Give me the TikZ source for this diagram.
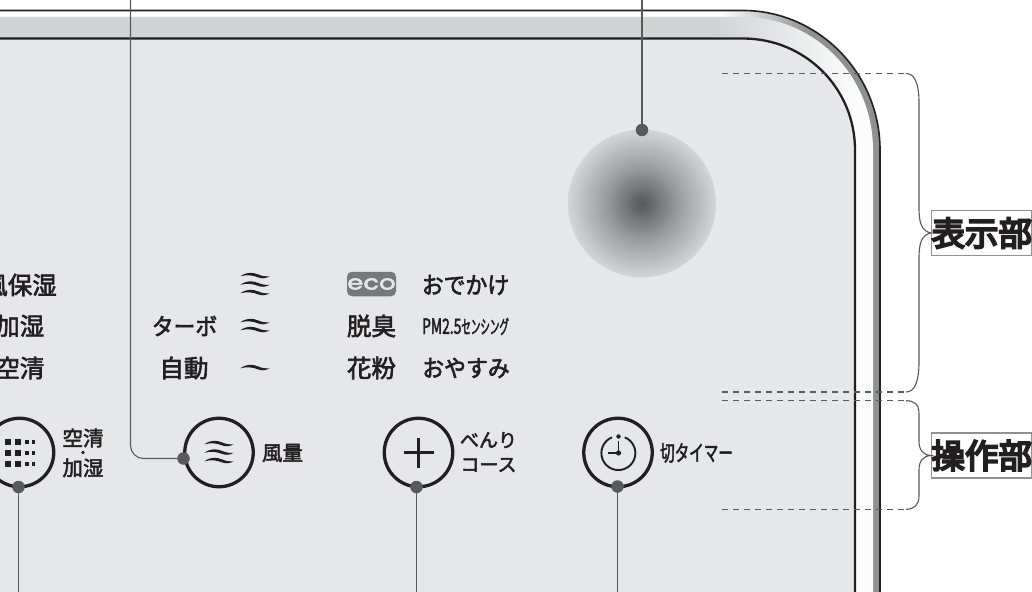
\documentclass[tikz,border=0pt]{standalone}
\usepackage{fontspec}
\newfontfamily\cjk[FakeBold=2.5]{Noto Sans CJK JP}
\newfontfamily\cjkk[FakeBold=2.5,FakeStretch=0.93]{Noto Sans CJK JP}
\newfontfamily\cjkn[FakeBold=2,FakeStretch=0.66]{Noto Sans CJK JP}
\newfontfamily\cjkv[FakeBold=2,FakeStretch=0.5]{Noto Sans CJK JP}
\newfontfamily\cjkt[FakeBold=6]{Noto Sans CJK JP}
\newfontfamily\ecof[FakeStretch=1.3,FakeBold=3]{Poppins}
\definecolor{ink}{HTML}{231F20}
\definecolor{lead}{HTML}{58595B}
\definecolor{panel}{HTML}{E6E7E8}
\definecolor{band}{HTML}{D1D3D4}
\definecolor{edge}{HTML}{8E9093}
\pgfdeclarehorizontalshading{rimshade}{100bp}{color(0bp)=(white);color(66bp)=(white);color(71bp)=(edge);color(100bp)=(edge)}
\pgfdeclarehorizontalshading{bandshade}{100bp}{color(0bp)=(band);color(66bp)=(band);color(74bp)=(white!92!band);color(100bp)=(white!92!band)}
\pgfdeclareradialshading{lens}{\pgfpoint{0bp}{0bp}}{color(0bp)=(lead);color(2bp)=(lead!94!panel);color(12.5bp)=(lead!52!panel);color(25bp)=(lead!13!panel);color(50bp)=(panel)}
\tikzset{
  leader/.style={draw=lead,line width=1.1pt},
  dashline/.style={draw=lead,line width=1.1pt,dash pattern=on 6pt off 5pt},
  dotn/.style={circle,fill=lead,minimum size=12.5pt,inner sep=0pt},
  btn/.style={circle,draw=ink,line width=3.3pt,minimum size=68.5pt,inner sep=0pt},
  big/.style={font=\cjk\fontsize{24.5}{25}\selectfont,text=ink,inner sep=0pt},
  kana/.style={font=\cjkk\fontsize{23.5}{25}\selectfont,text=ink,inner sep=0pt},
  small/.style={font=\cjk\fontsize{20.5}{22}\selectfont,text=ink,inner sep=0pt},
  narrow/.style={font=\cjkn\fontsize{21}{22}\selectfont,text=ink,inner sep=0pt},
  tag/.style={draw=edge,line width=1.1pt,fill=white,minimum width=99pt,minimum height=45pt,inner sep=0pt,
    font=\cjkt\fontsize{33.5}{34}\selectfont,text=ink},
  wave/.pic={\fill[ink] (-14.5,1.3) .. controls (-8,-3.6) and (-2,-2.6) .. (3,-0.6) .. controls (7,1) and (10,1.6) .. (14.5,1.4)
    .. controls (10,4) and (6,3.6) .. (2,2) .. controls (-2,0.5) and (-8,-0.6) .. (-14.5,1.3) -- cycle;}
}
\begin{document}
\begin{tikzpicture}[x=1pt,y=-1pt]
\useasboundingbox (0,0) rectangle (1032,591);
\clip (0,0) rectangle (1032,591);
\fill[white] (0,0) rectangle (1032,591);
% bezel
\shade[shading=rimshade] (-5,10.5) -- (743,10.5) .. controls (818,10.5) and (880,73) .. (880,150) -- (880,600) -- (-5,600) -- cycle;
\shade[shading=bandshade] (-5,17) -- (743,17) .. controls (815,17) and (873,76) .. (873,150) -- (873,600) -- (-5,600) -- cycle;
\draw[ink,line width=1.6pt] (-5,10.5) -- (743,10.5) .. controls (818,10.5) and (880,73) .. (880,150) -- (880,600);
\draw[ink,fill=panel,line width=2.3pt] (-5,38.5) -- (743,38.5) .. controls (805,38.5) and (855,88) .. (855,150) -- (855,600) -- (-5,600) -- cycle;
% sensor lens
\node[circle,minimum size=148pt,inner sep=0pt,shading=lens] (lensn) at (642,203.5) {};
% buttons
\node[btn] (b1) at (19.5,452.5) {};
\node[btn] (b2) at (219,452.5) {};
\node[btn] (b3) at (418.5,452.5) {};
\node[btn] (b4) at (618,452.5) {};
% icons
\foreach \x/\s in {8/5.6,18/5.2,27.3/4.2,33.5/3.6}{
  \foreach \y in {442,453,464}{
    \fill[ink] (\x-\s/2,\y-\s/2) rectangle (\x+\s/2,\y+\s/2);
  }
}
\pic at (219,443) {wave};
\pic at (219,451.5) {wave};
\pic at (219,460) {wave};
\draw[ink,line width=2.8pt] (404,452.7) -- (434,452.7) (418.6,438) -- (418.6,467.6);
\draw[ink,line width=1.9pt] (612,437.3) arc[start angle=-112,end angle=-428,radius=17];
\fill[ink] (618.5,436.5) circle[radius=2.2];
\draw[ink,line width=1.9pt] (618.5,441) -- (618.5,453) -- (608,453);
\fill[ink] (618.5,453) circle[radius=2.6];
% panel texts
\node[big,anchor=east] (t1) at (57,285) {風保湿};
\node[big,anchor=east] (t2) at (44.5,326) {加湿};
\node[big,anchor=east] (t3) at (44.5,368) {空清};
\node[kana] (t4) at (184.5,326) {ターボ};
\node[big] (t5) at (184,368) {自動};
\pic at (255,275) {wave};
\pic at (255,283.5) {wave};
\pic at (255,292) {wave};
\pic at (255,321) {wave};
\pic at (255,329) {wave};
\pic at (255,367) {wave};
\node[fill=edge!55!lead,rounded corners=5pt,minimum width=49pt,minimum height=24.5pt,inner sep=0pt,text=panel,font=\ecof\fontsize{20}{20}\selectfont] (eco) at (371.5,284) {eco};
\node[kana] (t6) at (465.5,285) {おでかけ};
\node[big] (t7) at (371.5,326) {脱臭};
\node[narrow,font=\cjkn\fontsize{21}{22}\selectfont] (t8) at (465.5,326.5) {PM2.5{\cjkv\fontsize{19}{20}\selectfont センシング}};
\node[big] (t9) at (371.5,368) {花粉};
\node[kana] (t10) at (466,368) {おやすみ};
\node[small] (s1) at (83,438) {空清};
\fill[ink] (83,452.5) circle[radius=1.8];
\node[small] (s2) at (83,468) {加湿};
\node[small] (s3) at (282.5,453) {風量};
\node[small,font=\cjk\fontsize{19}{20}\selectfont] (s4) at (488.5,440) {べんり};
\node[small,font=\cjk\fontsize{19}{20}\selectfont] (s5) at (488.5,465) {コース};
\node[narrow,font=\cjkn\fontsize{22}{22}\selectfont] (s6) at (696.5,453) {切タイマー};
% leaders
\node[dotn] (d1) at (18.5,487) {};
\node[dotn] (d2) at (183.5,458.5) {};
\node[dotn] (d3) at (416.5,487) {};
\node[dotn] (d4) at (617.5,486.5) {};
\node[dotn] (d5) at (642,130) {};
\coordinate (e1) at (18.5,595);
\coordinate (e2) at (130.5,-3);
\coordinate (e3) at (416.5,595);
\coordinate (e4) at (617.5,595);
\coordinate (e5) at (642,-3);
\draw[leader] (d1.center) -- (e1);
\draw[leader,rounded corners=13pt] (d2.center) -| (e2);
\draw[leader] (d3.center) -- (e3);
\draw[leader] (d4.center) -- (e4);
\draw[leader] (d5.center) -- (e5);
% tags
\node[tag] (lab1) at (981.7,233) {表示部};
\node[tag] (lab2) at (981.7,455.5) {操作部};
% dashed guides and braces
\coordinate (g1) at (722,73.5); \coordinate (h1) at (906,73.5);
\coordinate (g2) at (722,392); \coordinate (h2) at (906,392);
\coordinate (g3) at (722,400.7); \coordinate (h3) at (906,400.7);
\coordinate (g4) at (722,509.3); \coordinate (h4) at (906,509.3);
\draw[dashline] (g1) -- (h1);
\draw[dashline] (g2) -- (h2);
\draw[dashline] (g3) -- (h3);
\draw[dashline] (g4) -- (h4);
\draw[leader] (h1) .. controls (914,73.5) and (919,82) .. (919,103) -- (919,208) .. controls (919,224) and (922,231) .. (lab1.west)
  .. controls (922,235) and (919,242) .. (919,258) -- (919,362) .. controls (919,383) and (914,392) .. (h2);
\draw[leader] (h3) .. controls (914,400.7) and (919,404) .. (919,414) -- (919,441) .. controls (919,450) and (923,455) .. (lab2.west)
  .. controls (923,456) and (919,461) .. (919,470) -- (919,496) .. controls (919,505) and (914,509.3) .. (h4);
\end{tikzpicture}
\end{document}
